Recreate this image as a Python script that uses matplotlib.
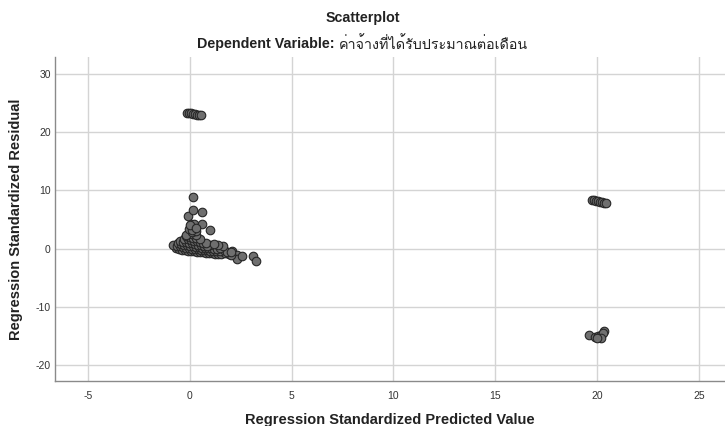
"""SPSS-style residual scatterplot (standardized predicted vs residual)."""

import matplotlib

matplotlib.use("Agg")
import matplotlib.pyplot as plt
from matplotlib import font_manager, ft2font

# main cluster near the origin
main_x = [
    -0.70, -0.55, -0.40, -0.25, -0.10, 0.05, 0.20, 0.35, 0.50, 0.65,
    0.80, 0.95, 1.10, 1.25, 1.40, 1.55, 1.73, 1.90, 2.06, 2.30,
    2.30, 2.58, 3.08, 3.24, 2.00,
    -0.82, -0.65, -0.50, -0.35, -0.20, -0.05, 0.10, 0.25, 0.40, 0.55,
    0.70, 0.85, 1.00, 1.15, 1.30, 1.50, 1.70, 1.85, 2.00,
    -0.60, -0.45, -0.30, -0.15, 0.00, 0.15, 0.30, 0.45, 0.60, 0.75,
    0.90, 1.05, 1.20, 1.35, 1.50, 1.65, 1.40, 1.00,
    -0.50, -0.35, -0.20, -0.05, 0.10, 0.25, 0.40, 0.55, 0.70, 0.85,
    -0.30, -0.10, 0.05, 0.20, 0.35, 0.50, 0.65, 0.80, 1.20,
    -0.20, 0.00, 0.15, 0.30, 0.50, -0.10, 0.10, 0.30, -0.21, 0.13, 0.30,
    0.99, -0.05, 0.10, 0.08, 0.21, 0.62, -0.08, 0.18, 0.62, 0.16, 0.00, 0.30,
]
main_y = [
    0.20, 0.00, -0.15, -0.25, -0.35, -0.40, -0.45, -0.50, -0.55, -0.60,
    -0.65, -0.70, -0.75, -0.90, -0.85, -0.90, -0.75, -0.95, -0.40, -1.00,
    -1.70, -1.30, -1.30, -2.05, -1.10,
    0.60, 0.50, 0.40, 0.30, 0.20, 0.10, 0.00, -0.05, -0.10, -0.15,
    -0.20, -0.30, -0.35, -0.40, -0.45, -0.40, -0.30, -0.50, -0.60,
    0.90, 0.80, 0.70, 0.60, 0.50, 0.40, 0.35, 0.30, 0.20, 0.15,
    0.10, 0.05, 0.00, -0.05, 0.20, 0.50, 0.60, 0.60,
    1.30, 1.20, 1.10, 1.00, 0.90, 0.80, 0.70, 0.60, 0.55, 0.45,
    1.70, 1.60, 1.50, 1.40, 1.30, 1.10, 1.00, 0.90, 0.80,
    2.10, 2.00, 1.90, 1.80, 1.60, 2.60, 2.50, 2.30, 2.40, 2.90, 3.00,
    3.20, 3.40, 3.20, 4.30, 4.30, 4.20, 5.60, 6.70, 6.30, 8.90, 4.00, 3.60,
]

# small group with very large positive residuals
top_x = [-0.15, -0.05, 0.05, 0.15, 0.25, 0.35, 0.45, 0.55]
top_y = [23.35, 23.30, 23.25, 23.20, 23.10, 23.00, 22.95, 22.90]

# high predicted value, positive residual
right_hi_x = [19.75, 19.85, 19.95, 20.05, 20.15, 20.25, 20.35, 20.45]
right_hi_y = [8.35, 8.30, 8.25, 8.20, 8.10, 8.00, 7.90, 7.80]

# high predicted value, negative residual
right_lo_x = [19.60, 19.90, 20.06, 20.20, 20.36, 20.30, 20.20, 20.00]
right_lo_y = [-14.8, -15.1, -15.0, -14.8, -14.2, -14.5, -15.4, -15.3]

x_ticks = [-5, 0, 5, 10, 15, 20, 25]
y_ticks = [-20, -10, 0, 10, 20, 30]

TITLE = "Scatterplot"
SUBTITLE_BOLD = "Dependent Variable: "
SUBTITLE_THAI = "ค่าจ้างที่ได้รับประมาณต่อเดือน"
X_LABEL = "Regression Standardized Predicted Value"
Y_LABEL = "Regression Standardized Residual"


def find_thai_family():
    """Look for an installed font that actually has Thai glyphs."""
    for entry in font_manager.fontManager.ttflist:
        try:
            charmap = ft2font.FT2Font(entry.fname).get_charmap()
        except Exception:
            continue
        if ord("ค") in charmap and ord("ร") in charmap:
            return entry.name
    return None


thai_family = find_thai_family()
sans = ["Liberation Sans", "DejaVu Sans"]
thai_fonts = ([thai_family] if thai_family else []) + sans

plt.rcParams["font.family"] = sans
plt.rcParams["axes.unicode_minus"] = False

fig = plt.figure(figsize=(7.25, 4.26), dpi=100)
fig.patch.set_facecolor("white")
ax = fig.add_axes([55 / 725, 1 - 381 / 426, 1 - 55 / 725, (381 - 57) / 426])

point_style = dict(s=38, c="#6f6f6f", edgecolors="#262626", linewidths=0.8, zorder=3)
for xs, ys in [
    (main_x, main_y),
    (top_x, top_y),
    (right_hi_x, right_hi_y),
    (right_lo_x, right_lo_y),
]:
    ax.scatter(xs, ys, **point_style)

ax.set_xlim(-6.62, 26.28)
ax.set_ylim(-22.7, 32.9)
ax.set_xticks(x_ticks)
ax.set_yticks(y_ticks)
ax.tick_params(length=0, labelsize=7.5, colors="#333333")
ax.tick_params(axis="x", pad=7)
ax.tick_params(axis="y", pad=3)
ax.grid(True, color="#d4d4d4", linewidth=1.0)
ax.set_axisbelow(True)
for side in ("top", "right"):
    ax.spines[side].set_visible(False)
for side in ("left", "bottom"):
    ax.spines[side].set_color("#8a8a8a")
    ax.spines[side].set_linewidth(1.0)

ax.set_xlabel(X_LABEL, fontsize=10.5, fontweight="bold", color="#222222", labelpad=9)
ax.set_ylabel(Y_LABEL, fontsize=10.5, fontweight="bold", color="#222222", labelpad=9)

fig.text(0.5, 1 - 18 / 426, TITLE, ha="center", va="center", fontsize=10.3, fontweight="bold", color="#222222")

# subtitle: bold english part followed by the thai variable name, centred together
sub_y = 1 - 44 / 426
part1 = fig.text(0, sub_y, SUBTITLE_BOLD, ha="left", va="center", fontsize=10.3, fontweight="bold", color="#222222")
part2 = fig.text(0, sub_y, SUBTITLE_THAI, ha="left", va="center", fontsize=10.3, color="#222222", family=thai_fonts)
renderer = fig.canvas.get_renderer()
w1 = part1.get_window_extent(renderer).width
w2 = part2.get_window_extent(renderer).width
fig_w = fig.bbox.width
start = (fig_w - (w1 + w2)) / 2
part1.set_x(start / fig_w)
part2.set_x((start + w1) / fig_w)

fig.savefig("out.png", dpi=100, facecolor="white")
